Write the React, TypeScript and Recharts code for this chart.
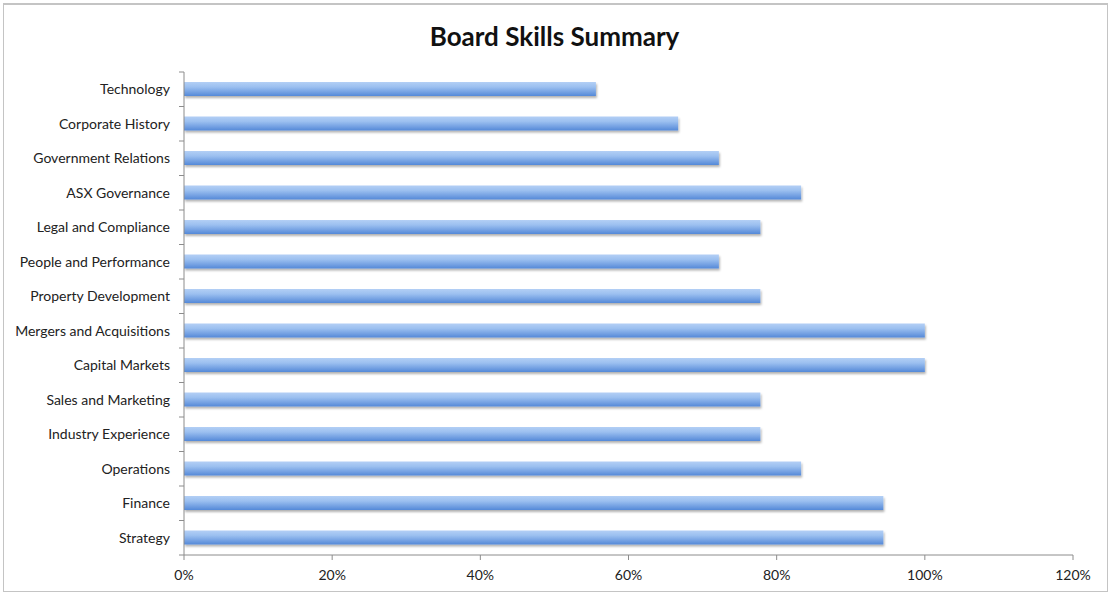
import React from 'react';
import { BarChart, Bar, XAxis, YAxis } from 'recharts';

const skills = [
  'Technology',
  'Corporate History',
  'Government Relations',
  'ASX Governance',
  'Legal and Compliance',
  'People and Performance',
  'Property Development',
  'Mergers and Acquisitions',
  'Capital Markets',
  'Sales and Marketing',
  'Industry Experience',
  'Operations',
  'Finance',
  'Strategy',
];
const coverage = [0.556, 0.667, 0.722, 0.833, 0.778, 0.722, 0.778, 1.0, 1.0, 0.778, 0.778, 0.833, 0.944, 0.944];
const xTicks = [0, 0.2, 0.4, 0.6, 0.8, 1.0, 1.2];

const data = skills.map((skill, i) => ({ skill, value: coverage[i] }));

const FONT = 'Lato, "Open Sans", sans-serif';
const MARGIN_TOP = 72;
const X_AXIS_H = 30;
const MARGIN_BOTTOM = 7;
const CHART_H = 592;
const BAND = (CHART_H - MARGIN_TOP - MARGIN_BOTTOM - X_AXIS_H) / skills.length;
const TICK_GAP = 14;

// category label plus small boundary ticks, like Excel's "between categories" tick marks
const SkillTick = (props: any) => {
  const { x, y, payload, index } = props;
  const ax = x + TICK_GAP;
  return (
    <g>
      <line x1={ax - 5} x2={ax} y1={y - BAND / 2} y2={y - BAND / 2} stroke="#8c8c8c" />
      {index === skills.length - 1 && (
        <line x1={ax - 5} x2={ax} y1={y + BAND / 2} y2={y + BAND / 2} stroke="#8c8c8c" />
      )}
      <text x={x} y={y} dy="0.35em" textAnchor="end" fill="#222" fontSize={14} fontFamily={FONT}>
        {payload.value}
      </text>
    </g>
  );
};

const App = () => {
  return (
    <div style={{ position: 'fixed', left: 0, top: 0, width: 1109, height: 592, background: '#fff', fontFamily: FONT }}>
      <div
        style={{
          position: 'absolute',
          left: 3,
          top: 3,
          width: 1103,
          height: 586,
          border: '1px solid #c4c4c4',
          borderTopWidth: 2,
        }}
      />
      <div
        style={{
          position: 'absolute',
          left: 0,
          width: 1109,
          top: 20,
          textAlign: 'center',
          fontSize: 26,
          fontWeight: 700,
          color: '#111',
        }}
      >
        Board Skills Summary
      </div>
      <div style={{ position: 'absolute', left: 0, top: 0 }}>
        <BarChart
          width={1109}
          height={CHART_H}
          data={data}
          layout="vertical"
          margin={{ top: MARGIN_TOP, right: 36, bottom: MARGIN_BOTTOM, left: 0 }}
          barCategoryGap={0}
        >
          <defs>
            <linearGradient id="barGrad" x1="0" y1="0" x2="0" y2="1">
              <stop offset="0%" stopColor="#b3cff5" />
              <stop offset="35%" stopColor="#9cc0f0" />
              <stop offset="100%" stopColor="#5589d8" />
            </linearGradient>
            <filter id="barShadow" x="-5%" y="-50%" width="110%" height="220%">
              <feDropShadow dx="1" dy="2" stdDeviation="1.2" floodColor="#000" floodOpacity="0.3" />
            </filter>
          </defs>
          <XAxis
            type="number"
            domain={[0, 1.2]}
            ticks={xTicks}
            height={X_AXIS_H}
            tickFormatter={(v: number) => `${Math.round(v * 100)}%`}
            tickSize={5}
            tickMargin={10}
            axisLine={{ stroke: '#8c8c8c' }}
            tickLine={{ stroke: '#8c8c8c' }}
            tick={{ fill: '#222', fontSize: 14, fontFamily: FONT }}
            interval={0}
          />
          <YAxis
            type="category"
            dataKey="skill"
            width={184}
            tickLine={false}
            tickSize={6}
            tickMargin={8}
            axisLine={{ stroke: '#8c8c8c' }}
            tick={<SkillTick />}
            interval={0}
          />
          <Bar
            dataKey="value"
            barSize={14}
            fill="url(#barGrad)"
            filter="url(#barShadow)"
            isAnimationActive={false}
          />
        </BarChart>
      </div>
    </div>
  );
};

export default App;
